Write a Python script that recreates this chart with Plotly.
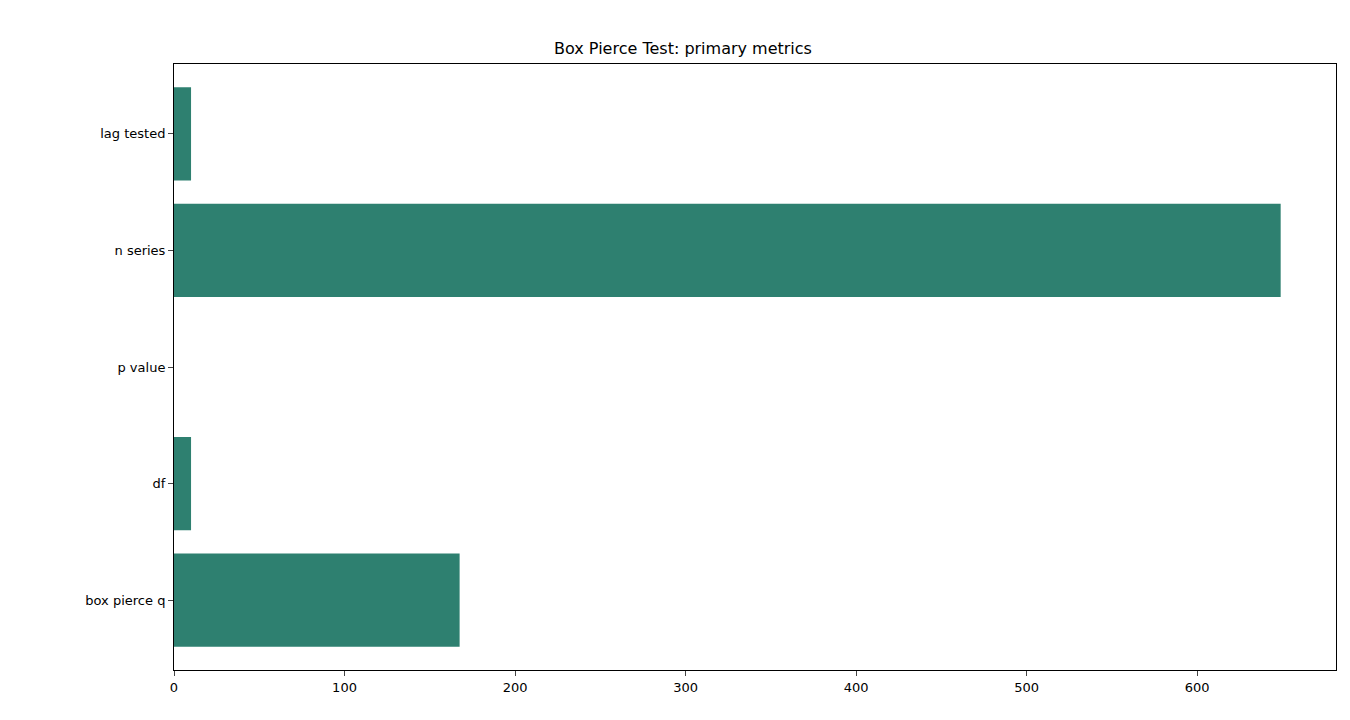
import plotly.graph_objects as go

categories = ["box pierce q", "df", "p value", "n series", "lag tested"]
values = [167.5, 10, 0.0, 649, 10]

fig = go.Figure(go.Bar(x=values, y=categories, orientation="h",
                       marker=dict(color="#2e8070", line=dict(width=0)), width=0.8))
xmax = max(values) * 1.05
fig.update_layout(
    width=1350, height=720, paper_bgcolor="white", plot_bgcolor="white",
    margin=dict(l=166, r=22, t=56, b=58),
    title=dict(text="Box Pierce Test: primary metrics", x=0.5, xanchor="center", y=0.952,
               font=dict(family="DejaVu Sans", size=16, color="black")),
    font=dict(family="DejaVu Sans", size=13, color="black"),
    showlegend=False,
)
fig.update_xaxes(range=[0, xmax], tickvals=[0,100,200,300,400,500,600], ticks="outside",
                 ticklen=5, showgrid=False, zeroline=False, showline=True, linecolor="black",
                 mirror=True)
fig.update_yaxes(range=[-0.6, 4.6], ticks="outside", ticklen=5, showgrid=False,
                 showline=True, linecolor="black", mirror=True)
fig.write_html("out.html")
